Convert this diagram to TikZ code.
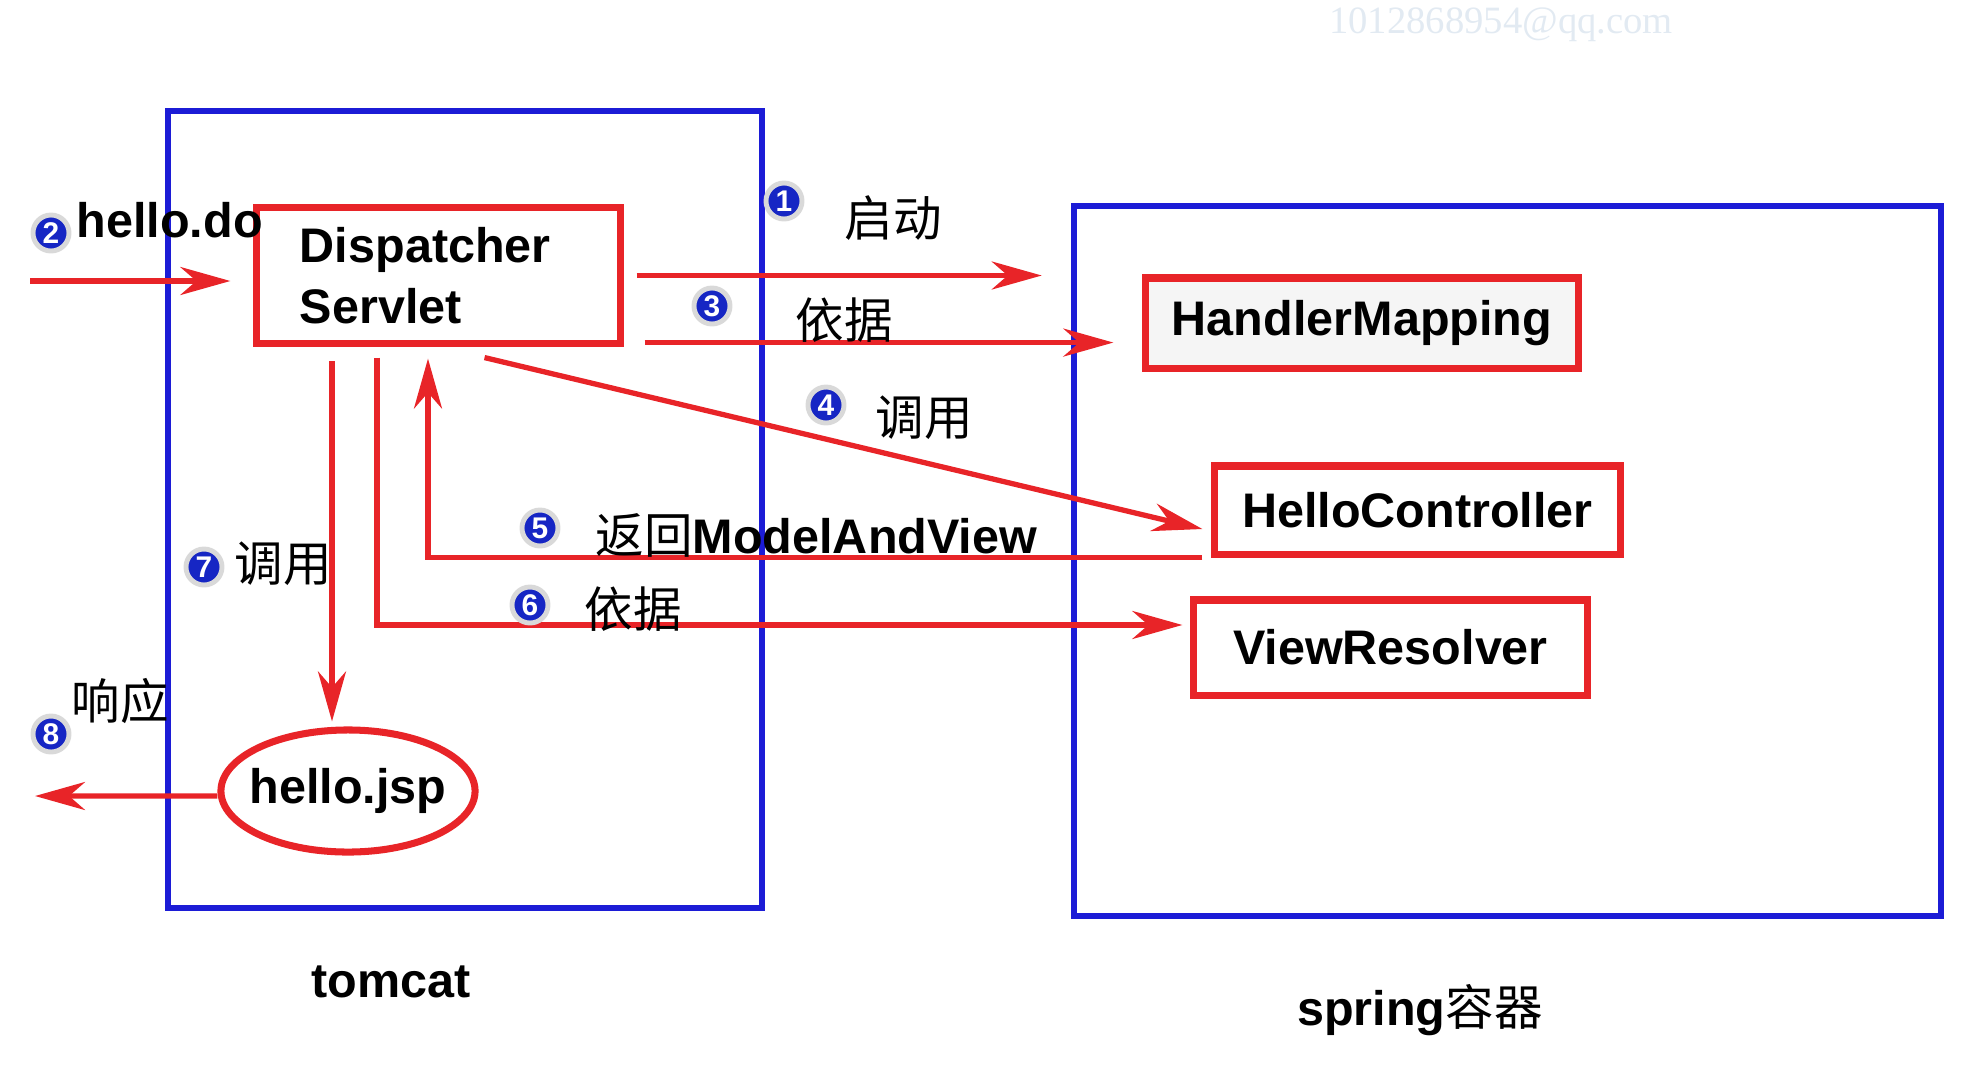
\documentclass[tikz,border=0pt]{standalone}
\usepackage{fontspec}
\setmainfont{Liberation Sans}
\newfontfamily\cjk{Noto Sans CJK SC}
\newfontfamily\wmfont{Liberation Serif}
\usetikzlibrary{arrows.meta,shapes.geometric,positioning}
\definecolor{flowred}{RGB}{232,36,40}
\definecolor{boxblue}{RGB}{28,28,214}
\definecolor{numblue}{RGB}{22,38,196}
\definecolor{marklight}{RGB}{226,234,242}
\tikzset{
  container/.style={
    draw=boxblue,
    line width=1.7pt,
    inner sep=0pt
  },
  part/.style={
    draw=flowred,
    line width=2pt,
    fill=white,
    inner sep=0pt,
    font=\bfseries\fontsize{13.8}{17.4}\selectfont
  },
  flow/.style={
    draw=flowred,
    line width=1.5pt,
    -{Stealth[length=0.5cm,width=0.28cm,inset=0.16cm]}
  },
  numdot/.style={
    circle,
    fill=numblue,
    draw=gray!30,
    line width=1.4pt,
    text=white,
    inner sep=0pt,
    minimum size=0.36cm,
    font=\bfseries\fontsize{8.5}{8.5}\selectfont
  },
  lbl/.style={
    font=\bfseries\fontsize{13.8}{16}\selectfont,
    inner sep=0pt
  },
  cjklbl/.style={
    font=\cjk\fontsize{13.8}{16}\selectfont,
    inner sep=0pt
  }
}
\begin{document}
\begin{tikzpicture}[x=0.01cm, y=-0.01cm]
    \useasboundingbox (0,0) rectangle (1984,1072);

    % containers
    \node[container, minimum width=5.94cm, minimum height=7.97cm] (tc) at (465,509.5) {};
    \node[container, minimum width=8.67cm, minimum height=7.10cm] (sp) at (1507.5,561) {};

    % parts
    \node[part, text width=2.77cm, align=left, inner xsep=0.43cm, minimum height=1.35cm] (ds) at (438.5,275.5) {Dispatcher\\Servlet};
    \node[part, fill=gray!8, minimum width=4.32cm, minimum height=0.90cm] (hm) at (1362,323) {HandlerMapping};
    \node[part, minimum width=4.05cm, minimum height=0.88cm] (hc) at (1417.5,510) {HelloController};
    \node[part, minimum width=3.93cm, minimum height=0.95cm] (vr) at (1390.5,647.5) {ViewResolver};
    \node[part, ellipse, inner xsep=-0.25cm, minimum width=2.54cm, minimum height=1.22cm] (jsp) at (348,791) {hello.jsp};

    % flows
    \coordinate (src) at (30,281);
    \coordinate (t7) at (332,361);
    \coordinate (resp) at (35,796);
    \draw[flow, shorten >=0.23cm] (src) -- (src -| ds.west);
    \draw[flow, shorten <=0.13cm, shorten >=0.29cm] (ds.east) -- (ds.east -| sp.west);
    \draw[flow, shorten <=0.21cm, shorten >=0.29cm] ([yshift=0.04cm]ds.south east) -- ([yshift=0.04cm]ds.south east -| hm.west);
    \draw[flow] ([xshift=0.46cm,yshift=-0.11cm]ds.south) -- ([xshift=-0.09cm,yshift=-0.19cm]hc.west);
    \draw[flow] ([xshift=-0.09cm]hc.south west) -| ([xshift=-0.105cm,yshift=-0.12cm]ds.south);
    \draw[flow] ([xshift=-0.615cm,yshift=-0.11cm]ds.south) |- ([xshift=-0.08cm,yshift=0.225cm]vr.west);
    \draw[flow, shorten >=0.05cm] (t7) -- (t7 |- jsp.north);
    \draw[flow] ([yshift=-0.05cm]jsp.west) -- (resp);

    % step labels
    \node[numdot] (n1) at (784,201) {1};
    \node[cjklbl] (l1) at (893,218) {启动};
    \node[numdot] (n2) at (51,233) {2};
    \node[lbl, anchor=west] (l2) at (76,220) {hello.do};
    \node[numdot] (n3) at (712,306) {3};
    \node[cjklbl] (l3) at (844,320) {依据};
    \node[numdot] (n4) at (826,405) {4};
    \node[cjklbl] (l4) at (924,418) {调用};
    \node[numdot] (n5) at (540,528) {5};
    \node[lbl, anchor=west] (l5) at (595,535) {{\cjk\mdseries 返回}ModelAndView};
    \node[numdot] (n6) at (530,605) {6};
    \node[cjklbl] (l6) at (633,609) {依据};
    \node[numdot] (n7) at (204,567) {7};
    \node[cjklbl] (l7) at (283,564) {调用};
    \node[numdot] (n8) at (51,734) {8};
    \node[cjklbl] (l8) at (120,701) {响应};

    % captions
    \node[lbl] (tcname) at (391,982) {tomcat};
    \node[lbl] (spname) at (1420,1010) {spring{\cjk\mdseries 容器}};
    \node[font=\wmfont\fontsize{11}{11}\selectfont, text=marklight, inner sep=0pt] (wm) at (1501,25) {1012868954@qq.com};
\end{tikzpicture}
\end{document}
